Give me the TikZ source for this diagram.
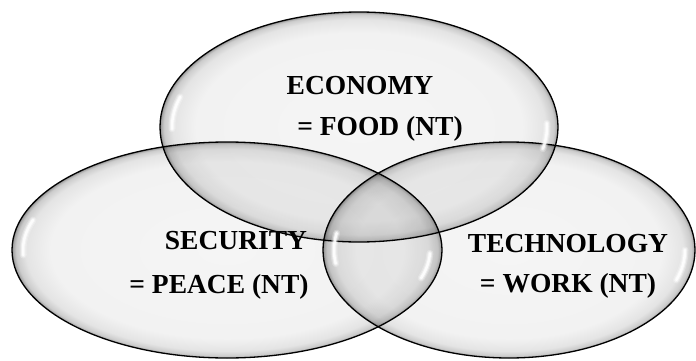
\documentclass[tikz,border=0pt]{standalone}
\usepackage{fontspec}
\setmainfont{Liberation Serif}
\usetikzlibrary{shapes.geometric}
\definecolor{gA}{HTML}{F5F5F5}
\definecolor{gB}{HTML}{F2F2F2}
\definecolor{gC}{HTML}{E4E4E4}
\definecolor{gD}{HTML}{CCCCCC}
\definecolor{gE}{HTML}{AAAAAA}
\definecolor{gF}{HTML}{8C8C8C}
\pgfdeclareradialshading{glass}{\pgfpoint{0bp}{0bp}}{color(0bp)=(gA); color(20.5bp)=(gB); color(23.4bp)=(gC); color(24.5bp)=(gD); color(24.85bp)=(gE); color(25bp)=(gF); color(50bp)=(gF)}
\tikzset{
  bubble/.style={ellipse, draw=black, line width=1.3pt, shading=glass, inner sep=0pt, outer sep=0pt},
  label/.style={font=\bfseries\fontsize{27.5}{32}\selectfont, inner sep=0pt, anchor=base},
  shine/.style={draw=white, line cap=round, line width=#1},
}
\begin{document}
\begin{tikzpicture}[x=1pt,y=1pt]
\fill[white] (0,0) rectangle (696,360);
\useasboundingbox (0,0) rectangle (696,360);
\begin{scope}[blend mode=multiply]
\node[bubble, minimum width=398pt, minimum height=230pt] (econ) at (359,233) {};
\node[bubble, minimum width=430pt, minimum height=216pt] (secu) at (227,110) {};
\node[bubble, minimum width=372pt, minimum height=216pt] (tech) at (509,110) {};
\end{scope}
% highlights
\foreach \c/\rx/\ry/\a/\b in {econ/187/103/163/181, econ/188/104/2/-12, secu/204/97/162/183, secu/203/96/-2/-17, tech/175/97/170/188, tech/176/97/0/-18}{
  \draw[shine=7pt, opacity=0.25] ([shift={(\a:\rx pt and \ry pt)}]\c.center) arc[start angle=\a, end angle=\b, x radius=\rx pt, y radius=\ry pt];
  \draw[shine=4.5pt, opacity=0.45] ([shift={(\a:\rx pt and \ry pt)}]\c.center) arc[start angle=\a, end angle=\b, x radius=\rx pt, y radius=\ry pt];
  \draw[shine=2.5pt, opacity=0.85] ([shift={(\a:\rx pt and \ry pt)}]\c.center) arc[start angle=\a, end angle=\b, x radius=\rx pt, y radius=\ry pt];
}
\node[label] (t1) at (360,266) {ECONOMY};
\node[label] (t2) at (380,225) {= FOOD (NT)};
\node[label] (t3) at (236,111) {SECURITY};
\node[label] (t4) at (219,67) {= PEACE (NT)};
\node[label] (t5) at (568,108) {TECHNOLOGY};
\node[label] (t6) at (568,68) {= WORK (NT)};
\end{tikzpicture}
\end{document}
